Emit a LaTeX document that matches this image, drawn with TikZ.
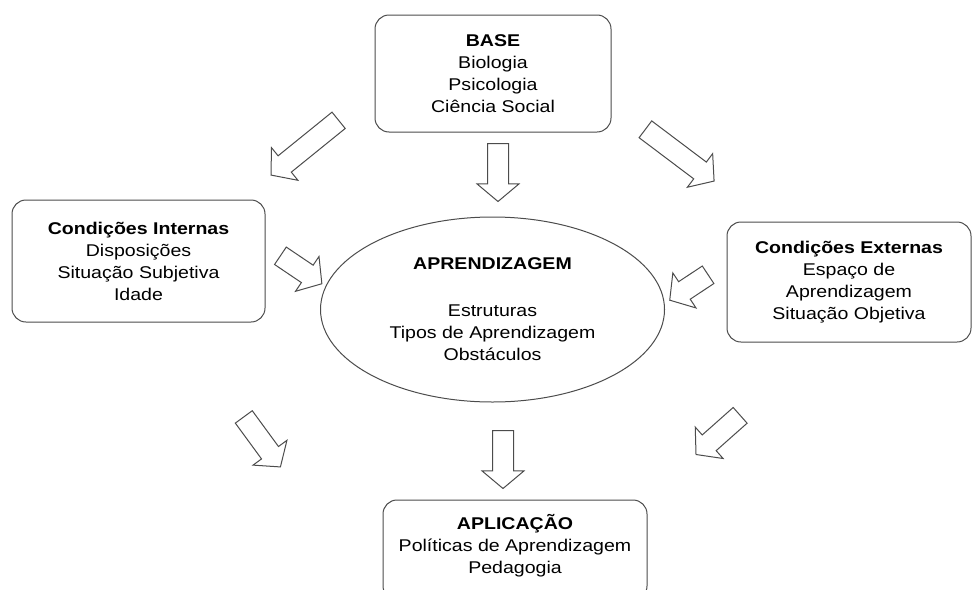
\documentclass[tikz,border=0pt]{standalone}
\usepackage{fontspec}
\setmainfont{Liberation Sans}[FakeStretch=1.15]
\usepackage{tikz}
\usetikzlibrary{shapes.geometric,shapes.arrows}

\begin{document}
\begin{tikzpicture}[
        x=1pt, y=-1pt,
        box/.style={draw=black!70, line width=1pt, rectangle, rounded corners=14pt, fill=white, align=center, font=\fontsize{17}{22}\selectfont},
        core/.style={draw=black!70, line width=1pt, ellipse, minimum width=344pt, minimum height=185pt, fill=white, align=center, font=\fontsize{17}{22}\selectfont},
        flow/.style={draw=black!70, line width=1pt, single arrow, anchor=tail, fill=white, inner xsep=0pt, inner ysep=10pt, single arrow head extend=10.5pt, single arrow tip angle=100}
    ]
        \clip (0,0) rectangle (973,589);
        \node[box, minimum width=236pt, minimum height=117pt] (base) at (493,73.5) {\textbf{BASE}\\Biologia\\Psicologia\\Ciência Social};
        \node[box, minimum width=253pt, minimum height=122pt] (interna) at (138.5,261) {\textbf{Condições Internas}\\Disposições\\Situação Subjetiva\\Idade};
        \node[box, minimum width=244pt, minimum height=120pt] (externa) at (849,282) {\textbf{Condições Externas}\\Espaço de\\Aprendizagem\\Situação Objetiva};
        \node[core] (aprend) at (492.5,309.5) {\textbf{APRENDIZAGEM}\\[25pt]Estruturas\\Tipos de Aprendizagem\\Obstáculos};
        \node[box, minimum width=264pt, minimum height=100pt, text depth=12pt] (aplic) at (515,550) {\textbf{APLICAÇÃO}\\Políticas de Aprendizagem\\Pedagogia};

        % block arrows
        \node[flow, rotate=-90, minimum height=58pt] (baseaprend) at (498,143) {};
        \node[flow, rotate=-141, minimum height=87pt] (baseinterna) at (339,120) {};
        \node[flow, rotate=-37, minimum height=86pt] (baseexterna) at (645,129) {};
        \node[flow, rotate=-34, minimum height=50pt] (internaaprend) at (280,255.5) {};
        \node[flow, rotate=-146.5, minimum height=46pt] (externaaprend) at (708.5,274.5) {};
        \node[flow, rotate=-53.8, minimum height=62pt] (internaaplic) at (243.5,416.5) {};
        \node[flow, rotate=-90, minimum height=58pt] (aprendaplic) at (503,430) {};
        \node[flow, rotate=-138.4, minimum height=59pt] (externaaplic) at (740.5,415) {};
    \end{tikzpicture}
\end{document}
